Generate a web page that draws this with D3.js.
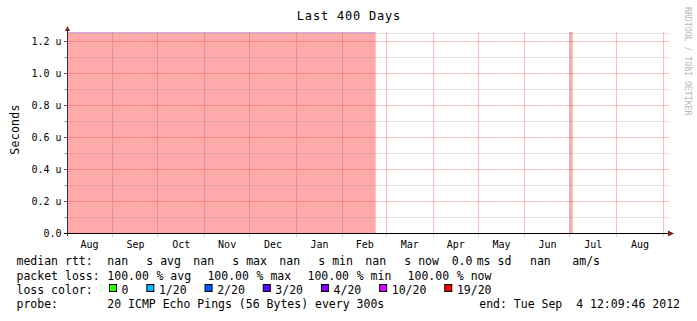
<!DOCTYPE html>
<html lang="en">
<head>
<meta charset="UTF-8">
<title>Last 400 Days</title>
<script src="https://d3js.org/d3.v7.min.js"></script>
<style>
  body { margin: 0; background: #fff; }
  svg { display: block; }
  text { font-family: "DejaVu Sans Mono", monospace; fill: #000; }
</style>
</head>
<body>
<svg id="chart" width="697" height="321"></svg>
<script>
// ---- data ----
const endTime = "2012-09-04T12:09:46";
const spanDays = 400;
const lossStart = ["2011-08-01T12:09:46", "2012-06-30T19:00:00"];
const lossEnd   = ["2012-02-22T19:00:00", "2012-07-02T19:00:00"];
const lossHeight = [1.259e-6, 1.259e-6];   // 100% loss -> full height bar
const yMajor = [0.2e-6, 0.4e-6, 0.6e-6, 0.8e-6, 1.0e-6, 1.2e-6];
const yMinor = [0.1e-6, 0.3e-6, 0.5e-6, 0.7e-6, 0.9e-6, 1.1e-6, 1.25e-6];
const yLabels = ["0.0", "0.2 u", "0.4 u", "0.6 u", "0.8 u", "1.0 u", "1.2 u"];

const medianVals  = ["nan", "nan", "nan", "nan"];
const medianUnits = ["s avg", "s max", "s min", "s now"];
const sdVal = "0.0", sdUnit = "ms sd";
const amsVal = "nan", amsUnit = "am/s";
const lossVals  = ["100.00", "100.00", "100.00", "100.00"];
const lossUnits = ["% avg", "% max", "% min", "% now"];
const lossColorLabels = ["0", "1/20", "2/20", "3/20", "4/20", "10/20", "19/20"];
const lossColors = ["#26ff00", "#00b8ff", "#0059ff", "#5e00ff", "#7e00ff", "#dd00ff", "#ff0000"];
const probeText = "20 ICMP Echo Pings (56 Bytes) every 300s";
const endText = "end: Tue Sep  4 12:09:46 2012";

// ---- setup ----
const parse = d3.utcParse("%Y-%m-%dT%H:%M:%S");
const tEnd = parse(endTime);
const tStart = d3.utcDay.offset(tEnd, -spanDays);

const svg = d3.select("#chart");
const x = d3.scaleUtc().domain([tStart, tEnd]).range([67, 668.5]);
const y = d3.scaleLinear().domain([0, 1.25e-6]).range([233.5, 33.5]);
const px = v => Math.floor(v) + 0.5;

const gridMinor = "rgba(140,140,140,0.25)";
const gridMajor = "rgba(222,79,79,0.35)";

// loss bars
const bars = lossStart.map((s, i) => ({ s: parse(s), e: parse(lossEnd[i]), v: lossHeight[i] }));
svg.append("g").selectAll("rect").data(bars).join("rect")
    .attr("x", d => x(d.s))
    .attr("y", d => y(d.v))
    .attr("width", d => x(d.e) - x(d.s))
    .attr("height", d => y(0) - 0.5 - y(d.v))
    .attr("fill", "#ff0000").attr("fill-opacity", 0.333);
svg.append("g").selectAll("line").data(bars).join("line")
    .attr("x1", d => x(d.s)).attr("x2", d => x(d.e))
    .attr("y1", d => y(d.v) + 0.5).attr("y2", d => y(d.v) + 0.5)
    .attr("stroke", "#d2aeea").attr("stroke-width", 1);

// horizontal grid
svg.append("g").selectAll("line").data(yMinor).join("line")
    .attr("x1", 67).attr("x2", 669.5)
    .attr("y1", d => px(y(d))).attr("y2", d => px(y(d)))
    .attr("stroke", gridMinor);
svg.append("g").selectAll("line").data(yMajor).join("line")
    .attr("x1", 67).attr("x2", 669.5)
    .attr("y1", d => px(y(d))).attr("y2", d => px(y(d)))
    .attr("stroke", gridMajor);

// small ticks left of the y axis
svg.append("g").selectAll("line").data(yMinor.slice(0, -1)).join("line")
    .attr("x1", 64.5).attr("x2", 67)
    .attr("y1", d => px(y(d))).attr("y2", d => px(y(d)))
    .attr("stroke", "#a0a0a0");
svg.append("g").selectAll("line").data(yMajor).join("line")
    .attr("x1", 64).attr("x2", 67)
    .attr("y1", d => px(y(d))).attr("y2", d => px(y(d)))
    .attr("stroke", "#8a4a4a");

// vertical grid (month starts)
const months = d3.utcMonth.range(tStart, tEnd);
svg.append("g").selectAll("line").data(months).join("line")
    .attr("x1", d => px(x(d))).attr("x2", d => px(x(d)))
    .attr("y1", 32).attr("y2", 237)
    .attr("stroke", gridMajor);

// y tick labels
svg.append("g").selectAll("text").data([0].concat(yMajor)).join("text")
    .attr("x", 61.5).attr("y", d => px(y(d)))
    .attr("dy", "0.36em")
    .attr("text-anchor", "end")
    .attr("font-size", "10px")
    .text((d, i) => yLabels[i]);

// month labels centred in each month
const labelMonths = d3.utcMonth.range(d3.utcMonth.floor(tStart), tEnd)
    .map(m => new Date((+m + +d3.utcMonth.offset(m, 1)) / 2))
    .filter(m => x(m) > 67 && x(m) < 668);
svg.append("g").selectAll("text").data(labelMonths).join("text")
    .attr("x", d => x(d)).attr("y", 247.5)
    .attr("text-anchor", "middle")
    .attr("font-size", "10px")
    .text(d3.utcFormat("%b"));

// axes
svg.append("line").attr("x1", 64).attr("x2", 668).attr("y1", 233.5).attr("y2", 233.5)
    .attr("stroke", "#000");
svg.append("line").attr("x1", 67.5).attr("x2", 67.5).attr("y1", 236).attr("y2", 30)
    .attr("stroke", "#333");
svg.append("path").attr("d", "M668,230.5L674,233.5L668,236.5Z").attr("fill", "#7f1f1f");
svg.append("path").attr("d", "M65,31L67.5,26L70,31Z").attr("fill", "#7f1f1f");

// titles
svg.append("text").attr("x", 349).attr("y", 20).attr("text-anchor", "middle")
    .attr("font-size", "12px").attr("letter-spacing", "0.8px")
    .text("Last 400 Days");
svg.append("text").attr("transform", "translate(18.5,129.5) rotate(-90)")
    .attr("text-anchor", "middle").attr("font-size", "11.5px").attr("letter-spacing", "0.3px")
    .text("Seconds");
svg.append("text").attr("transform", "translate(685,7) rotate(90)")
    .attr("font-size", "8.2px").style("fill", "#b8b8b8")
    .text("RRDTOOL / TOBI OETIKER");

// legend
const lg = svg.append("g").attr("font-size", "11.5px");
const rows = [265.3, 279.5, 293.7, 307.9];
const put = (t, xx, yy) => lg.append("text").attr("x", xx).attr("y", yy)
    .attr("xml:space", "preserve").text(t);

put("median rtt:", 16.5, rows[0]);
medianVals.forEach((v, i) => {
  const gx = 107.3 + 86 * i;
  put(v, gx, rows[0]);
  put(medianUnits[i], gx + 39, rows[0]);
});
put(sdVal, 451.7, rows[0]); put(sdUnit, 476.7, rows[0]);
put(amsVal, 530, rows[0]); put(amsUnit, 572.3, rows[0]);

put("packet loss:", 16.5, rows[1]);
lossVals.forEach((v, i) => {
  const gx = 107.3 + 100.1 * i;
  put(v, gx, rows[1]);
  put(lossUnits[i], gx + 49.2, rows[1]);
});

put("loss color:", 16.5, rows[2]);
let bx = 109;
lossColorLabels.forEach((lab, i) => {
  lg.append("rect").attr("x", bx + 0.5).attr("y", 284.5).attr("width", 7).attr("height", 7)
      .attr("fill", lossColors[i]).attr("stroke", "#000").attr("stroke-width", 1);
  put(lab, bx + 12.6, rows[2]);
  bx += 12.6 + lab.length * 6.95 + 17.8;
});

put("probe:", 16.5, rows[3]);
put(probeText, 107.3, rows[3]);
lg.append("text").attr("x", 680).attr("y", rows[3]).attr("text-anchor", "end")
    .attr("xml:space", "preserve").text(endText);
</script>
</body>
</html>
